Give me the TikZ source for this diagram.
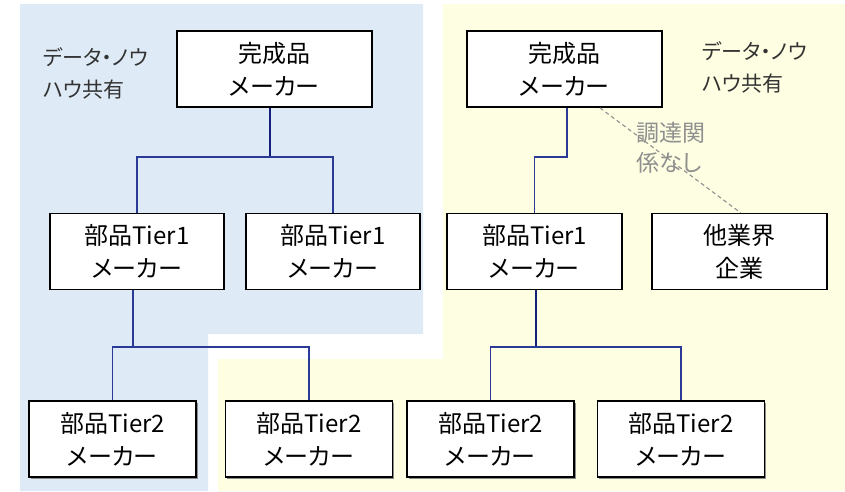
\documentclass[tikz,border=0pt]{standalone}
\usepackage{fontspec}
\setmainfont{Noto Sans CJK JP}[RawFeature={+palt}]
\usetikzlibrary{calc,shadows}
\definecolor{bgblue}{HTML}{DEEBF6}
\definecolor{bgyellow}{HTML}{FEFEE2}
\definecolor{navy}{HTML}{2A3A96}
\definecolor{navydark}{HTML}{14207A}
\definecolor{labelgray}{HTML}{333333}
\definecolor{notegray}{HTML}{8F8F8F}
\begin{document}
\begin{tikzpicture}[x=1pt,y=-1pt,
  box/.style={draw=black,line width=1.6pt,fill=white,align=center,
    minimum width=#1,minimum height=76pt,inner sep=0pt,
    font=\fontsize{24}{33}\selectfont},
  box/.default=174pt,
  sbox/.style={box=167pt,drop shadow={shadow xshift=1.5pt,shadow yshift=-1.5pt,fill=black!45,opacity=1}},
  link/.style={draw=navy,line width=1.1pt},
  thicklink/.style={draw=navydark,line width=2.6pt},
  note/.style={align=left,anchor=west,inner sep=0pt,font=\fontsize{21}{32}\selectfont,text=labelgray},
  graynote/.style={align=left,anchor=west,inner sep=0pt,font=\fontsize{23}{30}\selectfont,text=notegray},
  nolink/.style={draw=notegray,line width=1.1pt,dashed,dash pattern=on 4pt off 3pt}]
\useasboundingbox (0,0) rectangle (845,491);
% background regions
\fill[bgblue] (20,4) -- (423,4) -- (423,334) -- (208,334) -- (208,491) -- (20,491) -- cycle;
\fill[bgyellow] (443,4) -- (845,4) -- (845,491) -- (218,491) -- (218,359) -- (443,359) -- cycle;
% boxes
\node[box=195pt] (topL) at (274.5,69) {完成品\\メーカー};
\node[box=195pt] (topR) at (564.5,69) {完成品\\メーカー};
\node[box] (t1a) at (137,251.5) {部品Tier1\\メーカー};
\node[box] (t1b) at (333,251.5) {部品Tier1\\メーカー};
\node[box=175pt] (t1c) at (534.5,251.5) {部品Tier1\\メーカー};
\node[box=175pt] (oth) at (739.5,251.5) {他業界\\企業};
\node[sbox] (t2a) at (112.5,439) {部品Tier2\\メーカー};
\node[sbox] (t2b) at (309,439) {部品Tier2\\メーカー};
\node[sbox] (t2c) at (490.5,439) {部品Tier2\\メーカー};
\node[sbox] (t2d) at (681,439) {部品Tier2\\メーカー};
% labels
\node[note] (lblL) at (43,73.5) {データ・ノウ\\ハウ共有};
\node[note] (lblR) at (702,67.5) {データ・ノウ\\ハウ共有};
\node[graynote] (nolbl) at (636,148) {調達関\\係なし};
% joints
\coordinate (jL) at (270,157);
\coordinate (jR) at (567,157);
\coordinate (ja) at (133,347);
\coordinate (jc) at (536,347);
% connectors
\draw[thicklink] (topL.south -| jL) -- (jL);
\draw[link] (t1a.north) |- (jL) -| (t1b.north);
\draw[link] (topR.south -| jR) -- (jR) -| (t1c.north);
\draw[link] (t1a.south -| ja) -- (ja);
\draw[link] (t2a.north) |- (ja) -| (t2b.north);
\draw[thicklink,line width=2pt] (t1c.south -| jc) -- (jc);
\draw[link] (t2c.north) |- (jc) -| (t2d.north);
\draw[nolink] ($(topR.south west)!0.68!(topR.south east)$) -- ($(oth.north west)!0.506!(oth.north east)$);
\end{tikzpicture}
\end{document}
